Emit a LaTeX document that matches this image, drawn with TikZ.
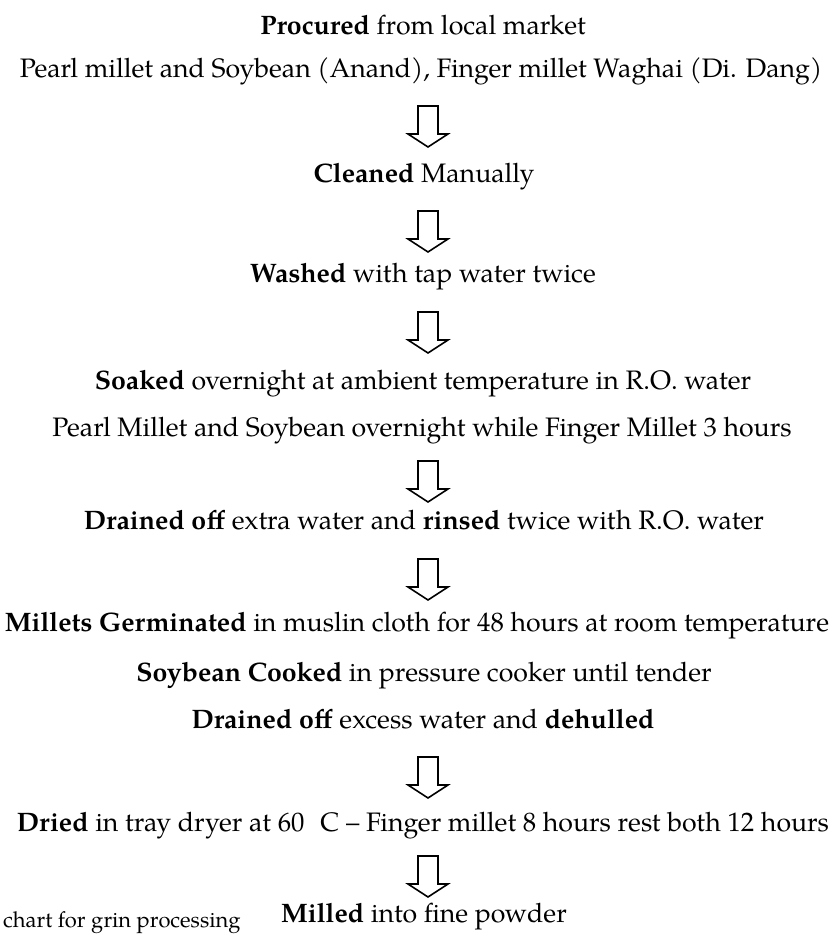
\documentclass[tikz,border=0pt]{standalone}
\usepackage{fontspec}
\setmainfont{texgyrepagella}[Extension=.otf, UprightFont=*-regular, BoldFont=*-bold, ItalicFont=*-italic, BoldItalicFont=*-bolditalic]
\tikzset{
  txt/.style={anchor=base, inner sep=0pt, font=\fontsize{26.8}{30}\selectfont},
  smalltxt/.style={anchor=base west, inner sep=0pt, font=\fontsize{22}{27}\selectfont},
  blockarrow/.style={draw=black, line width=1.6bp, line join=miter, fill=white}
}
\newcommand{\flowarrow}[1]{%
  \draw[blockarrow] (#1) ++(-10,0) -- ++(20,0) -- ++(0,28) -- ++(10,0) -- ++(-20,13) -- ++(-20,-13) -- ++(10,0) -- cycle;}
\begin{document}
\begin{tikzpicture}[x=1bp, y=-1bp]
\useasboundingbox (0,0) rectangle (838,934);
\node[txt] (t1) at (423,34) {\textbf{Procured} from local market};
\node[txt] (t2) at (421,77) {Pearl millet and Soybean (Anand), Finger millet Waghai (Di. Dang)};
\coordinate (a1) at (428,106);
\node[txt] (t3) at (424,182) {\textbf{Cleaned} Manually};
\coordinate (a2) at (428,211);
\node[txt] (t4) at (423,282) {\textbf{Washed} with tap water twice};
\coordinate (a3) at (428,312);
\node[txt] (t5) at (423,389) {\textbf{Soaked} overnight at ambient temperature in R.O. water};
\node[txt] (t6) at (422,436) {Pearl Millet and Soybean overnight while Finger Millet 3 hours};
\coordinate (a4) at (428,461);
\node[txt] (t7) at (424,529) {\textbf{Drained off} extra water and \textbf{rinsed} twice with R.O. water};
\coordinate (a5) at (428,559);
\node[txt] (t8) at (417,631) {\textbf{Millets Germinated} in muslin cloth for 48 hours at room temperature};
\node[txt] (t9) at (424,681) {\textbf{Soybean Cooked} in pressure cooker until tender};
\node[txt] (t10) at (423,728) {\textbf{Drained off} excess water and \textbf{dehulled}};
\coordinate (a6) at (428,757);
\node[txt] (t11) at (423,831) {\textbf{Dried} in tray dryer at 60\hspace{0.6em}C -- Finger millet 8 hours rest both 12 hours};
\coordinate (a7) at (428,856);
\node[txt] (t12) at (424,922) {\textbf{Milled} into fine powder};
\node[smalltxt] (cap) at (3,927) {chart for grin processing};
\foreach \a in {a1,a2,a3,a4,a5,a6,a7} {\flowarrow{\a}}
\end{tikzpicture}
\end{document}
